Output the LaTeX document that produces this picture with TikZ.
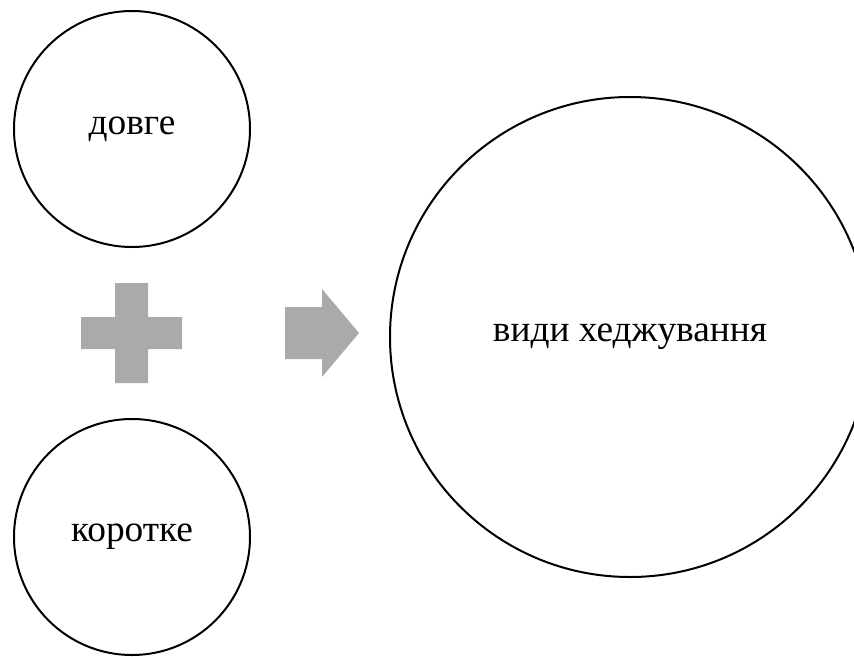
\documentclass[tikz,border=0pt]{standalone}
\usepackage{fontspec}
\setmainfont{Liberation Serif}
\begin{document}
\begin{tikzpicture}[x=0.75pt,y=-0.75pt,
  ring/.style={circle,draw=black,line width=1.5pt,inner sep=0pt,fill=white,
    font=\fontsize{28}{34}\selectfont},
  signfill/.style={fill=signgray,draw=none}]
\definecolor{signgray}{HTML}{AAAAAA}
\useasboundingbox (0,0) rectangle (854,657);
\node[ring,minimum size=236*0.75pt] (long) at (132,129) {довге};
\node[ring,minimum size=236*0.75pt] (short) at (132,537) {коротке};
\node[ring,minimum size=480*0.75pt] (kinds) at (630,337) {види хеджування};
% plus sign
\coordinate (plus) at (131.5,333);
\fill[signfill] (81,317) -- (115,317) -- (115,283) -- (148,283) -- (148,317) -- (182,317)
  -- (182,349) -- (148,349) -- (148,383) -- (115,383) -- (115,349) -- (81,349) -- cycle;
% arrow
\coordinate (arrowtip) at (359,333);
\fill[signfill] (285,307) -- (322,307) -- (322,289) -- (arrowtip) -- (322,377)
  -- (322,359) -- (285,359) -- cycle;
\end{tikzpicture}
\end{document}
